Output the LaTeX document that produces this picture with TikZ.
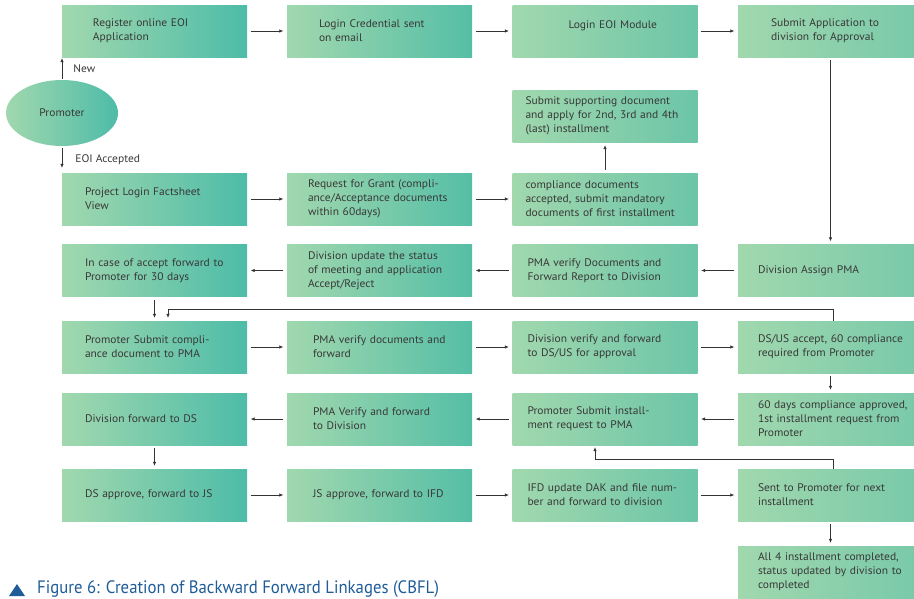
\documentclass[tikz,border=0pt]{standalone}
\usepackage{fontspec}
\setmainfont[FakeStretch=1.045]{PT Sans}
\newfontfamily\capfont[FakeStretch=0.93]{PT Sans}
\usetikzlibrary{shapes.geometric,arrows.meta}

\definecolor{boxlight}{HTML}{A1D8AE}
\definecolor{tealA}{HTML}{4DBCA8}
\definecolor{tealB}{HTML}{55BEA6}
\definecolor{tealC}{HTML}{6CC5A8}
\definecolor{tealD}{HTML}{78C9A9}
\definecolor{txtgray}{HTML}{383838}
\definecolor{linegray}{HTML}{333333}
\definecolor{capblue}{HTML}{1F5C99}

\tikzset{
  boxfont/.style={font=\fontsize{11}{14}\selectfont},
  stepbox/.style={rectangle, minimum width=185pt, minimum height=52pt,
    text width=185pt, inner sep=0pt, align=left,
    left color=boxlight, right color=#1, text=txtgray, boxfont},
  stepbox/.default=tealA,
  lpad/.style={execute at begin node={\leftskip=#1pt\relax}},
  link/.style={->, draw=linegray, line width=0.7pt},
  lbl/.style={inner sep=0pt, text=txtgray, boxfont},
}

\begin{document}
\begin{tikzpicture}[x=1pt, y=-1pt, >={Latex[length=4pt,width=3.6pt]}]
			\useasboundingbox (0,0) rectangle (914,598);
			\clip (0,0) rectangle (914,598);
			% Promoter
			\node[ellipse, minimum width=112pt, minimum height=66pt, inner sep=0pt,
			  left color=boxlight, right color=tealA, text=txtgray, boxfont] (prom) at (62,113) {Promoter};
			% Hang 1
			\node[stepbox, lpad=31] (reg) at (154.5,31) {Register online EOI\\Application};
			\node[stepbox=tealB, lpad=32] (cred) at (379.5,31) {Login Credential sent\\on email};
			\node[stepbox=tealC, lpad=56, text depth=12pt] (eoimod) at (605,31) {Login EOI Module};
			\node[stepbox=tealD, lpad=33] (subapp) at (830.5,31) {Submit Application to\\division for Approval};
			\node[stepbox=tealC, lpad=13] (supp) at (605,116) {Submit supporting document\\and apply for 2nd, 3rd and 4th\\(last) installment};
			% Hang 2
			\node[stepbox, lpad=23] (fact) at (154.5,199) {Project Login Factsheet\\View};
			\node[stepbox=tealB, lpad=21] (grant) at (379.5,199) {Request for Grant (compli-\\ance/Acceptance documents\\within 60days)};
			\node[stepbox=tealC, lpad=13] (compl) at (605,199) {compliance documents\\accepted, submit mandatory\\documents of first installment};
			% Hang 3
			\node[stepbox, lpad=23] (accept) at (154.5,270.5) {In case of accept forward to\\Promoter for 30 days};
			\node[stepbox=tealB, lpad=21] (divupd) at (379.5,270.5) {Division update the status\\of meeting and application\\Accept/Reject};
			\node[stepbox=tealC, lpad=15] (pmarep) at (605,270.5) {PMA verify Documents and\\Forward Report to Division};
			\node[stepbox=tealD, lpad=20] (assign) at (830.5,270.5) {Division Assign PMA};
			% Hang 4
			\node[stepbox, lpad=23] (prosub) at (154.5,347) {Promoter Submit compli-\\ance document to PMA};
			\node[stepbox=tealB, lpad=26] (pmafwd) at (379.5,347) {PMA verify documents and\\forward};
			\node[stepbox=tealC, lpad=15] (divver) at (605,347) {Division verify and forward\\to DS/US for approval};
			\node[stepbox=tealD, lpad=20] (dsus) at (830.5,347) {DS/US accept, 60 compliance\\required from Promoter};
			% Hang 5
			\node[stepbox, lpad=23] (divds) at (154.5,419) {Division forward to DS};
			\node[stepbox=tealB, lpad=26] (pmadiv) at (379.5,419) {PMA Verify and forward\\to Division};
			\node[stepbox=tealC, lpad=15] (instreq) at (605,419) {Promoter Submit install-\\ment request to PMA};
			\node[stepbox=tealD, lpad=20] (approved) at (830.5,419) {60 days compliance approved,\\1st installment request from\\Promoter};
			% Hang 6, 7
			\node[stepbox, lpad=23] (dsjs) at (154.5,495) {DS approve, forward to JS};
			\node[stepbox=tealB, lpad=26] (jsifd) at (379.5,495) {JS approve, forward to IFD};
			\node[stepbox=tealC, lpad=15] (ifd) at (605,495) {IFD update DAK and file num-\\ber and forward to division};
			\node[stepbox=tealD, lpad=20] (next) at (830.5,495) {Sent to Promoter for next\\installment};
			\node[stepbox=tealD, lpad=20] (done) at (830.5,572) {All 4 installment completed,\\status updated by division to\\completed};
			% Mui ten
			\draw[link, shorten <=1pt, shorten >=1pt] (prom.north) -- (prom.north |- reg.south)
			  node[lbl, midway, right=11pt] (lnew) {New};
			\draw[link, shorten <=2pt, shorten >=5pt] (prom.south) -- (prom.south |- fact.north)
			  node[lbl, midway, right=13pt] (lacc) {EOI Accepted};
			\foreach \a/\b in {reg/cred, cred/eoimod, eoimod/subapp, fact/grant, grant/compl,
			  assign/pmarep, pmarep/divupd, divupd/accept, prosub/pmafwd, pmafwd/divver, divver/dsus,
			  approved/instreq, instreq/pmadiv, pmadiv/divds, dsjs/jsifd, jsifd/ifd, ifd/next}
			\draw[link, shorten <=3.5pt, shorten >=3.5pt] (\a) -- (\b);
			\foreach \a/\b in {subapp/assign, dsus/approved, accept/prosub, divds/dsjs, next/done, compl/supp}
			\draw[link, shorten <=3pt, shorten >=3pt] (\a) -- (\b);
			% Vong lai
			\coordinate (fbl) at (168,309);
			\draw[link, shorten >=3pt] ([xshift=2.5pt]dsus.north) |- (fbl) -- (fbl |- prosub.north);
			\coordinate (nxl) at (595,459);
			\draw[link, shorten >=2pt] ([xshift=2.5pt]next.north) |- (nxl) -- (nxl |- instreq.south);
			% Chu thich
			\fill[capblue] (9,596) -- (25,596) -- (17,584) -- cycle;
			\node[anchor=base west, inner sep=0pt, text=capblue, font=\capfont\fontsize{18}{20}\selectfont]
			  (cap) at (37,593) {Figure 6: Creation of Backward Forward Linkages (CBFL)};
		\end{tikzpicture}
\end{document}
